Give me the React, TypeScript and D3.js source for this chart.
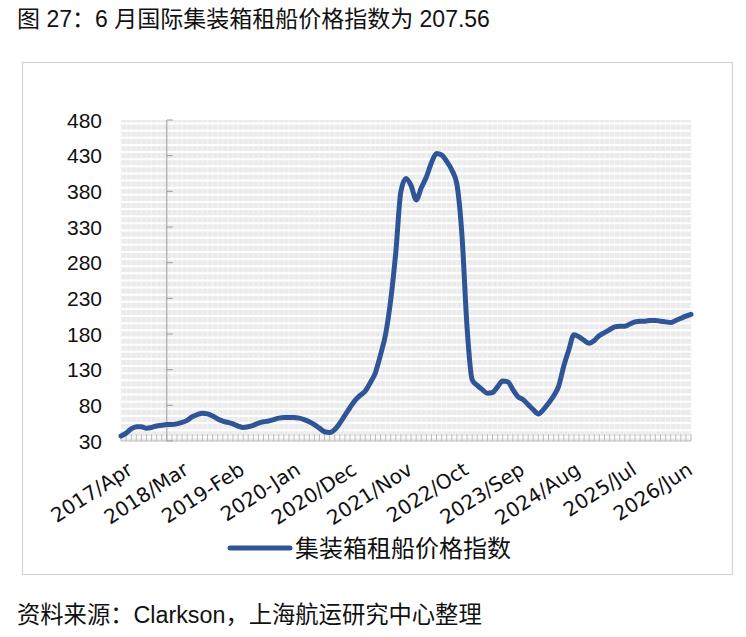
import * as d3 from "d3";
import { useEffect, useRef } from "react";

// monthly index values, 2017/Apr onward
const values = [
	37, 41, 47, 50, 50, 48, 49, 51, 52, 53, 53, 54, 56, 59, 64, 67, 69, 68, 65, 61,
	58, 56, 54, 51, 49, 50, 52, 55, 57, 58, 60, 62, 63, 63, 63, 62, 60, 57, 53, 48,
	43, 42, 46, 55, 66, 77, 87, 94, 100, 112, 126, 151, 180, 228, 295, 380, 398, 388, 368, 385,
	400, 420, 433, 431, 422, 410, 390, 318, 189, 116, 108, 102, 97, 98, 106, 114, 113, 102, 92, 88,
	81, 74, 68, 74, 83, 93, 107, 135, 158, 179, 176, 171, 167, 171, 178, 182, 186, 190, 191, 191,
	194, 197, 198, 198, 199, 199, 198, 197, 196, 199, 202, 205, 207.56,
];

const tickLabels = [
	"2017/Apr", "2018/Mar", "2019-Feb", "2020-Jan", "2020/Dec", "2021/Nov",
	"2022/Oct", "2023/Sep", "2024/Aug", "2025/Jul", "2026/Jun",
];
const labelStep = 11;
const yTicks = [30, 80, 130, 180, 230, 280, 330, 380, 430, 480];
const yAxisAt = 9; // category where the value axis crosses

const seriesName = "集装箱租船价格指数";
const title = "图 27：6 月国际集装箱租船价格指数为 207.56";
const source = "资料来源：Clarkson，上海航运研究中心整理";

const W = 746;
const H = 637;
const blue = "#2f5597";

export default function App() {
	const svgRef = useRef<SVGSVGElement>(null);

	useEffect(() => {
		const svg = d3.select(svgRef.current);
		svg.selectAll("*").remove();

		const left = 121;
		const right = 691;
		const top = 120;
		const bottom = 441;

		const x = d3.scaleLinear().domain([0, values.length - 1]).range([left, right]);
		const y = d3.scaleLinear().domain([30, 480]).range([bottom, top]);

		svg.append("rect").attr("width", W).attr("height", H).attr("fill", "#fff");

		// title and source
		svg
			.append("text")
			.attr("x", 17)
			.attr("y", 27)
			.style("font-family", "'Liberation Sans', 'Noto Sans CJK SC', sans-serif")
			.style("font-size", "23px")
			.attr("fill", "#111")
			.text(title);

		svg
			.append("text")
			.attr("x", 17)
			.attr("y", 623)
			.style("font-family", "'Liberation Sans', 'Noto Sans CJK SC', sans-serif")
			.style("font-size", "23.3px")
			.attr("fill", "#111")
			.text(source);

		// chart border
		svg
			.append("rect")
			.attr("x", 22.5)
			.attr("y", 62.5)
			.attr("width", 710)
			.attr("height", 512)
			.attr("fill", "none")
			.attr("stroke", "#d4d4d4")
			.attr("stroke-width", 1.2);

		// plot background with fine grid
		svg
			.append("rect")
			.attr("x", left)
			.attr("y", top)
			.attr("width", right - left)
			.attr("height", bottom - top)
			.attr("fill", "#ebebeb");

		const g = svg.append("g");
		g.selectAll("line.v")
			.data(d3.range(values.length))
			.join("line")
			.attr("x1", (d) => x(d))
			.attr("x2", (d) => x(d))
			.attr("y1", top)
			.attr("y2", bottom)
			.attr("stroke", "#f6f6f6")
			.attr("stroke-width", 0.8);

		g.selectAll("line.h")
			.data(d3.range(30, 481, 10))
			.join("line")
			.attr("x1", left)
			.attr("x2", right)
			.attr("y1", (d) => y(d) + 3.5)
			.attr("y2", (d) => y(d) + 3.5)
			.attr("stroke", "#fff")
			.attr("stroke-width", 2);

		// bottom axis with monthly ticks
		svg
			.append("line")
			.attr("x1", left)
			.attr("x2", right)
			.attr("y1", bottom)
			.attr("y2", bottom)
			.attr("stroke", "#bdbdbd");
		svg
			.append("g")
			.selectAll("line")
			.data(d3.range(values.length))
			.join("line")
			.attr("x1", (d) => x(d))
			.attr("x2", (d) => x(d))
			.attr("y1", bottom)
			.attr("y2", bottom - 7)
			.attr("stroke", "#b5b5b5")
			.attr("stroke-width", 0.9);

		// value axis
		const ya = svg.append("g").attr("transform", `translate(${x(yAxisAt)},0)`);
		ya.append("line")
			.attr("y1", top)
			.attr("y2", bottom)
			.attr("stroke", "#9a9a9a")
			.attr("stroke-width", 1);
		ya.selectAll("line.t")
			.data(yTicks)
			.join("line")
			.attr("x1", 0)
			.attr("x2", 6)
			.attr("y1", (d) => y(d))
			.attr("y2", (d) => y(d))
			.attr("stroke", "#9a9a9a");

		svg
			.append("g")
			.selectAll("text")
			.data(yTicks)
			.join("text")
			.attr("x", 102)
			.attr("y", (d) => y(d))
			.attr("dy", "0.36em")
			.attr("text-anchor", "end")
			.style("font-family", "'Liberation Sans', sans-serif")
			.style("font-size", "21px")
			.attr("fill", "#111")
			.text((d) => d);

		// category labels
		svg
			.append("g")
			.selectAll("text")
			.data(tickLabels)
			.join("text")
			.attr("transform", (_d, i) => `translate(${x(i * labelStep) + 13},473) rotate(-33)`)
			.attr("text-anchor", "end")
			.style("font-family", "'DejaVu Sans', sans-serif")
			.style("font-size", "20px")
			.attr("fill", "#111")
			.text((d) => d);

		// series line
		const line = d3
			.line<number>()
			.x((_d, i) => x(i))
			.y((d) => y(d))
			.curve(d3.curveMonotoneX);

		svg
			.append("path")
			.datum(values)
			.attr("d", line)
			.attr("fill", "none")
			.attr("stroke", blue)
			.attr("stroke-width", 5)
			.attr("stroke-linejoin", "round")
			.attr("stroke-linecap", "round");

		// legend
		svg
			.append("line")
			.attr("x1", 230)
			.attr("x2", 290)
			.attr("y1", 548)
			.attr("y2", 548)
			.attr("stroke", blue)
			.attr("stroke-width", 5)
			.attr("stroke-linecap", "round");
		svg
			.append("text")
			.attr("x", 295)
			.attr("y", 548)
			.attr("dy", "0.36em")
			.style("font-family", "'Noto Sans CJK SC', sans-serif")
			.style("font-size", "24px")
			.attr("fill", "#111")
			.text(seriesName);
	}, []);

	return (
		<svg
			ref={svgRef}
			width={W}
			height={H}
			style={{ position: "absolute", left: 0, top: 0 }}
		/>
	);
}
